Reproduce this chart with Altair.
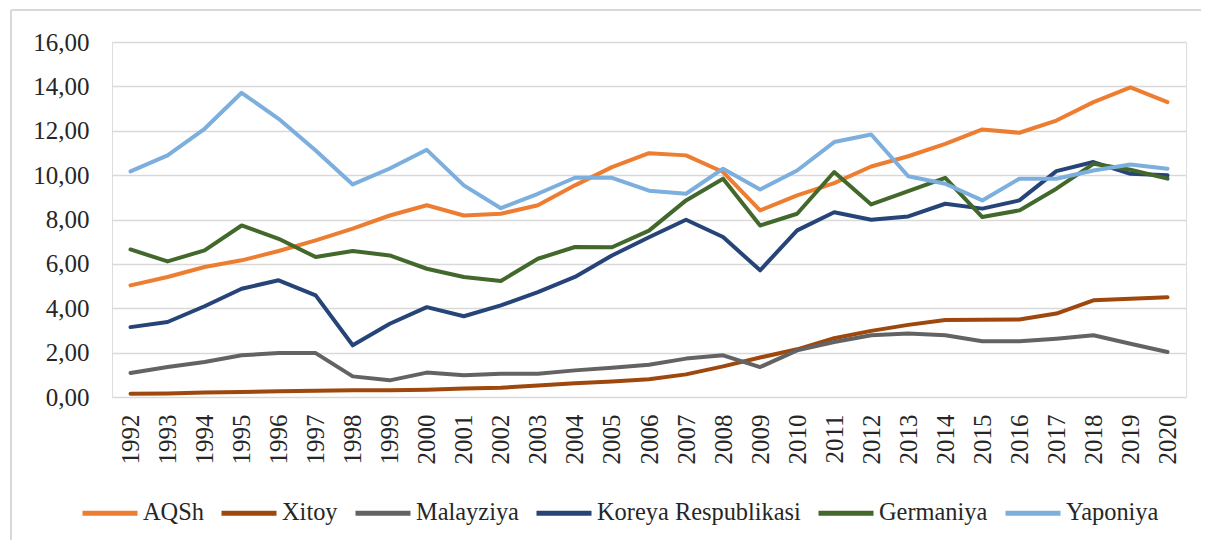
import altair as alt
import pandas as pd

years = list(range(1992, 2021))

aqsh = [5.03, 5.41, 5.86, 6.16, 6.58, 7.06, 7.59, 8.18, 8.64, 8.18, 8.26, 8.64, 9.54, 10.36,
        10.99, 10.89, 10.14, 8.41, 9.09, 9.64, 10.39, 10.85, 11.41, 12.06, 11.91, 12.46,
        13.29, 13.95, 13.29]
xitoy = [0.15, 0.16, 0.20, 0.22, 0.26, 0.28, 0.30, 0.30, 0.33, 0.38, 0.42, 0.52, 0.62, 0.70,
         0.80, 1.02, 1.38, 1.78, 2.15, 2.65, 2.98, 3.25, 3.47, 3.48, 3.49, 3.76, 4.36, 4.43, 4.50]
malayziya = [1.08, 1.35, 1.58, 1.88, 1.98, 1.98, 0.93, 0.75, 1.10, 0.98, 1.05, 1.05, 1.20,
             1.32, 1.45, 1.73, 1.88, 1.35, 2.10, 2.48, 2.78, 2.86, 2.78, 2.51, 2.51, 2.63,
             2.78, 2.40, 2.03]
koreya = [3.15, 3.38, 4.09, 4.88, 5.26, 4.58, 2.33, 3.30, 4.05, 3.64, 4.13, 4.73, 5.41, 6.38,
          7.20, 7.99, 7.21, 5.71, 7.51, 8.33, 7.99, 8.14, 8.71, 8.49, 8.86, 10.18, 10.59,
          10.06, 9.99]
germaniya = [6.65, 6.11, 6.61, 7.73, 7.13, 6.31, 6.58, 6.38, 5.78, 5.41, 5.23, 6.23, 6.76,
             6.75, 7.50, 8.86, 9.84, 7.73, 8.26, 10.14, 8.68, 9.28, 9.88, 8.11, 8.41, 9.39,
             10.51, 10.24, 9.84]
yaponiya = [10.17, 10.89, 12.09, 13.71, 12.54, 11.11, 9.58, 10.30, 11.14, 9.54, 8.51, 9.16,
            9.88, 9.88, 9.30, 9.16, 10.29, 9.35, 10.21, 11.49, 11.83, 9.95, 9.61, 8.86, 9.84,
            9.84, 10.21, 10.48, 10.29]

series_names = ["AQSh", "Xitoy", "Malayziya", "Koreya Respublikasi", "Germaniya", "Yaponiya"]
series_values = [aqsh, xitoy, malayziya, koreya, germaniya, yaponiya]
series_colors = ["#ED7D31", "#9E480E", "#636363", "#264478", "#43682B", "#7CAFDD"]
y_ticks = [0, 2, 4, 6, 8, 10, 12, 14, 16]

rows = []
for name, vals in zip(series_names, series_values):
    for yr, v in zip(years, vals):
        rows.append({"Yil": str(yr), "Mamlakat": name, "Qiymat": v})
df = pd.DataFrame(rows)

FONT = "Liberation Serif"
TXT = "#262626"

lines = alt.Chart(df).mark_line(strokeWidth=4, strokeCap="round", strokeJoin="round").encode(
    x=alt.X("Yil:O", title=None, sort=None,
            scale=alt.Scale(type="point", padding=0.5),
            axis=alt.Axis(labelAngle=-90, labelFont=FONT, labelFontSize=25, labelColor=TXT,
                          labelPadding=17, ticks=False, tickSize=0, domain=False, grid=False)),
    y=alt.Y("Qiymat:Q", title=None,
            scale=alt.Scale(domain=[0, 16], nice=False),
            axis=alt.Axis(values=y_ticks,
                          labelExpr="replace(format(datum.value, '.2f'), '.', ',')",
                          labelFont=FONT, labelFontSize=25, labelColor=TXT,
                          labelPadding=23, ticks=False, tickSize=0, domain=False,
                          grid=True, gridColor="#D9D9D9", gridWidth=1.5)),
    color=alt.Color("Mamlakat:N", sort=series_names,
                    scale=alt.Scale(domain=series_names, range=series_colors),
                    legend=alt.Legend(title=None, orient="none", direction="horizontal",
                                      legendX=-32, legendY=441,
                                      symbolType="stroke", symbolSize=3025,
                                      symbolStrokeWidth=5, labelFont=FONT,
                                      labelFontSize=24.4, labelColor=TXT, labelOffset=3,
                                      columnPadding=7, labelLimit=400, padding=0)),
)

one = pd.DataFrame({"k": [0]})
border_v = alt.Chart(one).mark_rule(color="#D9D9D9", strokeWidth=2).encode(
    x=alt.value(-101), y=alt.value(-32), y2=alt.value(520))
border_h = alt.Chart(one).mark_rule(color="#D9D9D9", strokeWidth=2).encode(
    x=alt.value(-101), x2=alt.value(1110), y=alt.value(-32))

chart = alt.layer(border_v, border_h, lines).properties(
    width=1074, height=355,
    autosize=alt.AutoSizeParams(type="none"),
    padding={"left": 104, "top": 34, "right": 15, "bottom": 143},
    title=alt.Title("(a)", font=FONT, fontSize=26, fontWeight="bold", color="#000000",
                    offset=33, dx=12),
).configure_view(stroke=None).configure(background="white", font=FONT)

chart.save("out.html", embed_options={"renderer": "svg", "actions": False})
